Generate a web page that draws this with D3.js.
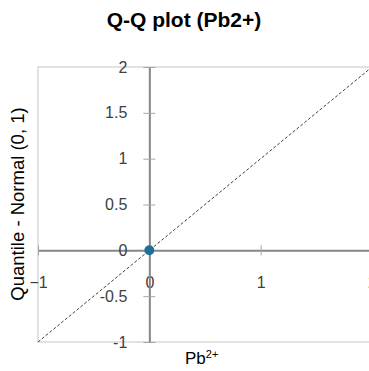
<!DOCTYPE html>
<html>
<head>
<meta charset="utf-8">
<script src="https://cdn.jsdelivr.net/npm/d3@7"></script>
<style>
  body { margin: 0; background: #fff; }
  svg { display: block; font-family: Arial, "Liberation Sans", sans-serif; }
</style>
</head>
<body>
<div id="chart"></div>
<script>
// data
const xValues = [0];
const yValues = [0];
const xTicks = [-1, 0, 1, 2];
const yTicks = [-1, -0.5, 0, 0.5, 1, 1.5, 2];
const refLine = [-1, 2];

const w = 369;
const h = 371;
const padLeft = 38;
const padRight = 372;
const padTop = 67;
const padBottom = 342;

const svg = d3
  .select("#chart")
  .append("svg")
  .attr("width", w)
  .attr("height", h);

const xScale = d3.scaleLinear().domain([-1, 2]).range([padLeft, padRight]);
const yScale = d3.scaleLinear().domain([-1, 2]).range([padBottom, padTop]);

// plot area border
svg
  .append("rect")
  .attr("x", padLeft)
  .attr("y", padTop)
  .attr("width", padRight - padLeft)
  .attr("height", padBottom - padTop)
  .attr("fill", "none")
  .attr("stroke", "#d9d9d9")
  .attr("stroke-width", 1.5);

// title
svg
  .append("text")
  .attr("x", 184)
  .attr("y", 27)
  .attr("text-anchor", "middle")
  .style("font-size", "21px")
  .style("font-weight", "bold")
  .text("Q-Q plot (Pb2+)");

// axes crossing at zero
const xAxis = d3
  .axisBottom(xScale)
  .tickValues(xTicks)
  .tickSize(0)
  .tickFormat(d3.format("d"));
const gx = svg
  .append("g")
  .attr("id", "x-axis")
  .attr("transform", `translate(0,${yScale(0)})`)
  .call(xAxis);
gx.select(".domain").attr("stroke", "#868686").attr("stroke-width", 2);
gx.selectAll(".tick text")
  .attr("y", 32)
  .attr("dy", "0.35em")
  .attr("fill", "#404040")
  .style("font-size", "16px")
  .style("font-family", "Arial, 'Liberation Sans', sans-serif");
gx.selectAll(".tick")
  .append("line")
  .attr("y1", -5)
  .attr("y2", 5)
  .attr("stroke", "#a6a6a6");

const yAxis = d3
  .axisLeft(yScale)
  .tickValues(yTicks)
  .tickSize(0)
  .tickFormat((d) => String(d));
const gy = svg
  .append("g")
  .attr("id", "y-axis")
  .attr("transform", `translate(${xScale(0)},0)`)
  .call(yAxis);
gy.select(".domain").attr("stroke", "#868686").attr("stroke-width", 2);
gy.selectAll(".tick text")
  .attr("x", -22)
  .attr("fill", "#404040")
  .style("font-size", "16px")
  .style("font-family", "Arial, 'Liberation Sans', sans-serif");
gy.selectAll(".tick")
  .append("line")
  .attr("x1", -6)
  .attr("x2", 6)
  .attr("stroke", "#a6a6a6");

// reference line
svg
  .append("line")
  .attr("x1", xScale(refLine[0]))
  .attr("y1", yScale(refLine[0]))
  .attr("x2", xScale(refLine[1]))
  .attr("y2", yScale(refLine[1]))
  .attr("stroke", "#404040")
  .attr("stroke-width", 1)
  .attr("stroke-dasharray", "3,2");

// points
svg
  .selectAll("circle")
  .data(xValues)
  .enter()
  .append("circle")
  .attr("cx", (d) => xScale(d))
  .attr("cy", (d, i) => yScale(yValues[i]))
  .attr("r", 5)
  .attr("fill", "#1f6f98");

// axis titles
svg
  .append("text")
  .attr("transform", `translate(24,204) rotate(-90)`)
  .attr("text-anchor", "middle")
  .attr("fill", "#000")
  .style("font-size", "18.5px")
  .text("Quantile - Normal (0, 1)");

const xLabel = svg
  .append("text")
  .attr("x", 185)
  .attr("y", 364)
  .attr("fill", "#000")
  .style("font-size", "17px");
xLabel.append("tspan").text("Pb");
xLabel
  .append("tspan")
  .attr("dy", -6)
  .style("font-size", "11px")
  .text("2+");
</script>
</body>
</html>
